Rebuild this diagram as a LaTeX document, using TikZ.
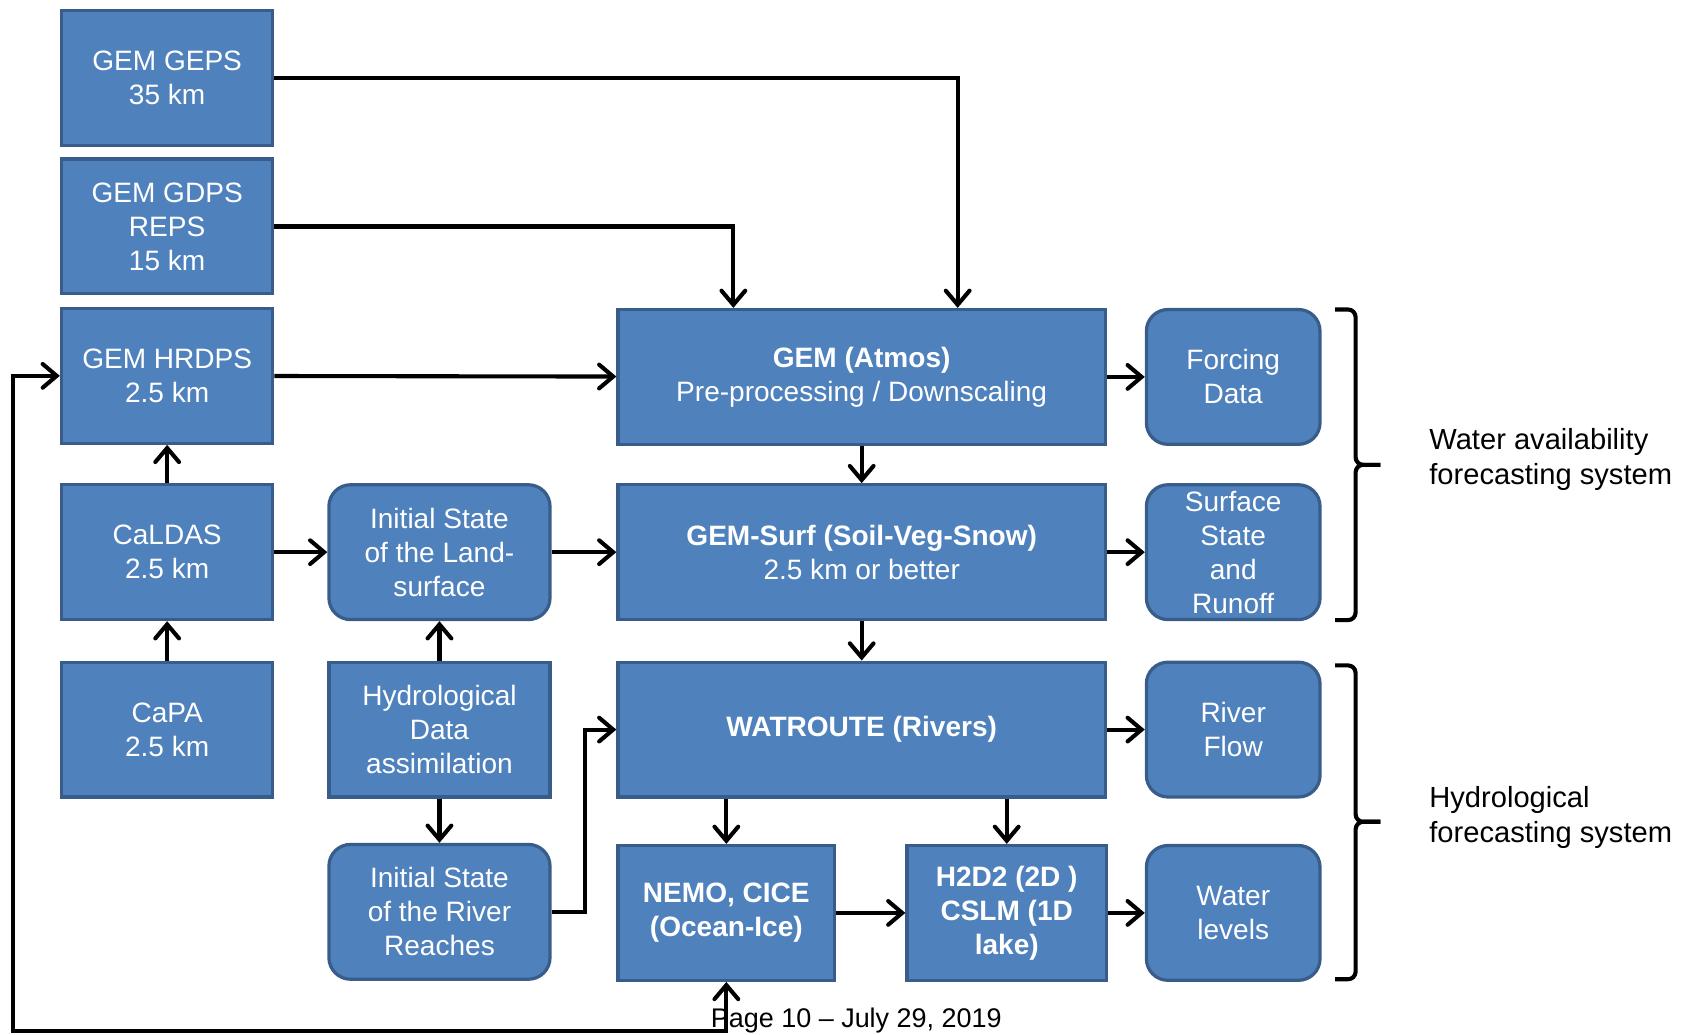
\documentclass[tikz,border=0pt]{standalone}
\usepackage{fontspec}
\setmainfont{Liberation Sans}
\usetikzlibrary{arrows.meta}

\definecolor{boxfill}{HTML}{4F81BD}
\definecolor{boxline}{HTML}{385D8A}

\begin{document}
\begin{tikzpicture}[x=0.5pt,y=-0.5pt,
  box/.style={draw=boxline, fill=boxfill, line width=1.5pt, text=white, align=center,
    inner sep=0pt, minimum height=62.5pt, font=\fontsize{13}{15.8}\selectfont},
  rbox/.style={box, rounded corners=10pt},
  bbox/.style={box, font=\fontsize{13}{15.8}\selectfont\bfseries},
  arr/.style={->, >={Straight Barb[length=6.5pt,width=11pt,line cap=round]}, line width=1.9pt},
  brace/.style={line width=1.9pt, rounded corners=3.5pt},
  side/.style={anchor=west, align=left, inner sep=0pt, font=\fontsize{13.5}{16}\selectfont}]

\useasboundingbox (0,0) rectangle (1568,959);

% inputs
\node [box, minimum width=98pt] (geps) at (155,72.5) {GEM GEPS\\35 km};
\node [box, minimum width=98pt] (gdps) at (155,210) {GEM GDPS\\REPS\\15 km};
\node [box, minimum width=98pt] (hrdps) at (155,348.5) {GEM HRDPS\\2.5 km};
\node [box, minimum width=98pt] (caldas) at (155,512) {CaLDAS\\2.5 km};
\node [box, minimum width=98pt] (capa) at (155,676.5) {CaPA\\2.5 km};

\node [rbox, minimum width=102.5pt] (landinit) at (407.5,512) {Initial State\\of the Land-\\surface};
\node [box, minimum width=102.5pt] (hydroda) at (407.5,676.5) {Hydrological\\Data\\assimilation};
\node [rbox, minimum width=102.5pt] (riverinit) at (407.5,845.5) {Initial State\\of the River\\Reaches};

% models
\node [box, minimum width=226pt] (atmos) at (799,349.5) {\textbf{GEM (Atmos)}\\Pre-processing / Downscaling};
\node [box, minimum width=226pt] (surf) at (799,512) {\textbf{GEM-Surf (Soil-Veg-Snow)}\\2.5 km or better};
\node [bbox, minimum width=226pt] (watroute) at (799,676.5) {WATROUTE (Rivers)};
\node [bbox, minimum width=100.5pt] (nemo) at (673.5,846.5) {NEMO, CICE\\(Ocean-Ice)};
\node [bbox, minimum width=92.5pt] (h2d2) at (933.5,846.5) {H2D2 (2D )\\CSLM (1D\\lake)};

% outputs
\node [rbox, minimum width=80.5pt] (forcing) at (1143.5,349.5) {Forcing\\Data};
\node [rbox, minimum width=80.5pt] (surfstate) at (1143.5,512) {Surface\\State\\and\\Runoff};
\node [rbox, minimum width=80.5pt] (riverflow) at (1143.5,676.5) {River\\Flow};
\node [rbox, minimum width=80.5pt] (levels) at (1143.5,846.5) {Water\\levels};

\draw [arr] (geps.east) -| ([xshift=44.5pt]atmos.north);
\draw [arr] (gdps.east) -| ([xshift=-59.5pt]atmos.north);
\draw [arr] (hrdps) -- (atmos);
\draw [arr] (caldas) -- (hrdps);
\draw [arr] (capa) -- (caldas);
\draw [arr] (caldas) -- (landinit);
\draw [arr] (landinit) -- (surf);
\draw [arr] (hydroda) -- (landinit);
\draw [arr] (hydroda) -- (riverinit);
\draw [arr] (riverinit.east) -- ++(15.5pt,0) |- (watroute.west);
\draw [arr] (atmos) -- (surf);
\draw [arr] (surf) -- (watroute);
\draw [arr] (watroute.south -| nemo.north) -- (nemo.north);
\draw [arr] (watroute.south -| h2d2.north) -- (h2d2.north);
\draw [arr] (nemo) -- (h2d2);
\draw [arr] (atmos) -- (forcing);
\draw [arr] (surf) -- (surfstate);
\draw [arr] (watroute) -- (riverflow);
\draw [arr] (h2d2) -- (levels);

% feedback to HRDPS
\coordinate (loopcorner) at (12,956);
\draw [arr, <->] (nemo.south) |- (loopcorner) |- (hrdps.west);

% braces
\draw [brace] (1280,431) -| (1257,287) -- (1238,287);
\draw [brace] (1280,431) -| (1257,575) -- (1238,575);
\draw [brace] (1280,762) -| (1257,617) -- (1238,617);
\draw [brace] (1280,762) -| (1257,908) -- (1238,908);

\node [side] (wafs) at (1325,426) {Water availability\\forecasting system};
\node [side] (hfs) at (1325,758) {Hydrological\\forecasting system};

\node [font=\fontsize{12.5}{15}\selectfont, inner sep=0pt] (page) at (794,946) {Page 10 -- July 29, 2019};

\end{tikzpicture}
\end{document}
